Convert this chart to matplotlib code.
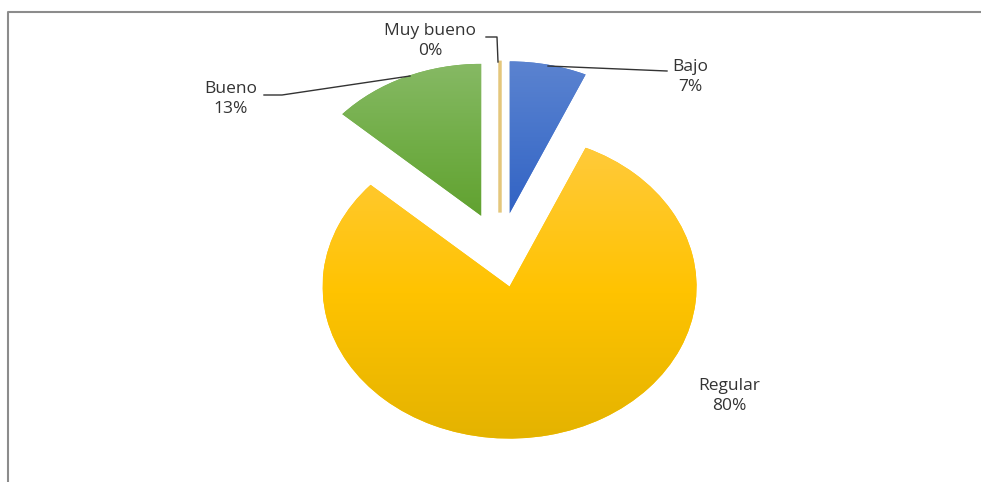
import matplotlib
matplotlib.use('Agg')
import matplotlib.pyplot as plt
import numpy as np
from matplotlib.colors import LinearSegmentedColormap
from matplotlib.lines import Line2D

# ---- data ----
categories = ['Bajo', 'Regular', 'Bueno', 'Muy bueno']
values = [2, 24, 4, 0]
pct_labels = ['7%', '80%', '13%', '0%']

# ---- style ----
grad_stops = [
    ['#5B83D0', '#4674CB', '#3263C4'],
    ['#FFCA3A', '#FFC300', '#E4B300'],
    ['#86B964', '#72AE48', '#61A230'],
    ['#E4C77C', '#E4C77C', '#E4C77C'],
]
text_color = '#333333'
FONT = 'Open Sans'

W, H = 981, 482
fig = plt.figure(figsize=(W / 100, H / 100), dpi=100)
ax = fig.add_axes([0, 0, 1, 1])
ax.axis('off')


def px(x, y):
    return x / W, 1 - y / H


wedges, _ = ax.pie(values, explode=[0.246] * len(values), startangle=90,
                   counterclock=False, radius=1,
                   colors=[g[1] for g in grad_stops],
                   normalize=True, wedgeprops=dict(linewidth=0))

grad = np.linspace(0, 1, 256).reshape(-1, 1)
for w, v, stops in zip(wedges, values, grad_stops):
    if v == 0:
        w.set_edgecolor(stops[0])
        w.set_linewidth(2.5)
        continue
    ext = w.get_path().get_extents()
    cmap = LinearSegmentedColormap.from_list('g', stops)
    im = ax.imshow(grad, extent=(ext.x0, ext.x1, ext.y0, ext.y1), origin='upper',
                   aspect='auto', cmap=cmap, zorder=w.get_zorder() + 0.1,
                   interpolation='bilinear')
    im.set_clip_path(w)

ax.set_aspect('auto')
rx, ry = 187.0, 152.0
cx, cy = 500.0, 250.0
ax.set_xlim(-cx / rx, (W - cx) / rx)
ax.set_ylim(-(H - cy) / ry, cy / ry)

# ---- data labels ----
label_pos = {
    'Bajo': (690, 77),
    'Regular': (729, 396),
    'Bueno': (231, 99),
    'Muy bueno': (430, 41),
}
for cat, pct in zip(categories, pct_labels):
    x, y = px(*label_pos[cat])
    fig.text(x, y, f'{cat}\n{pct}', ha='center', va='center', fontsize=12.5,
             family=FONT, color=text_color, linespacing=1.3)

# leader lines
leaders = [
    [(548, 66), (667, 71)],
    [(264, 95), (282, 95), (410, 76)],
    [(486, 37), (497, 37), (498, 62)],
]
for pts in leaders:
    xs, ys = zip(*[px(*p) for p in pts])
    fig.add_artist(Line2D(xs, ys, color=text_color, lw=1.0))

# chart area border (partially visible)
bx, by = zip(*[px(*p) for p in [(8, H), (8, 12), (W, 12)]])
fig.add_artist(Line2D(bx, by, color='#8C8C8C', lw=1.5))

fig.savefig('out.png', dpi=100)
